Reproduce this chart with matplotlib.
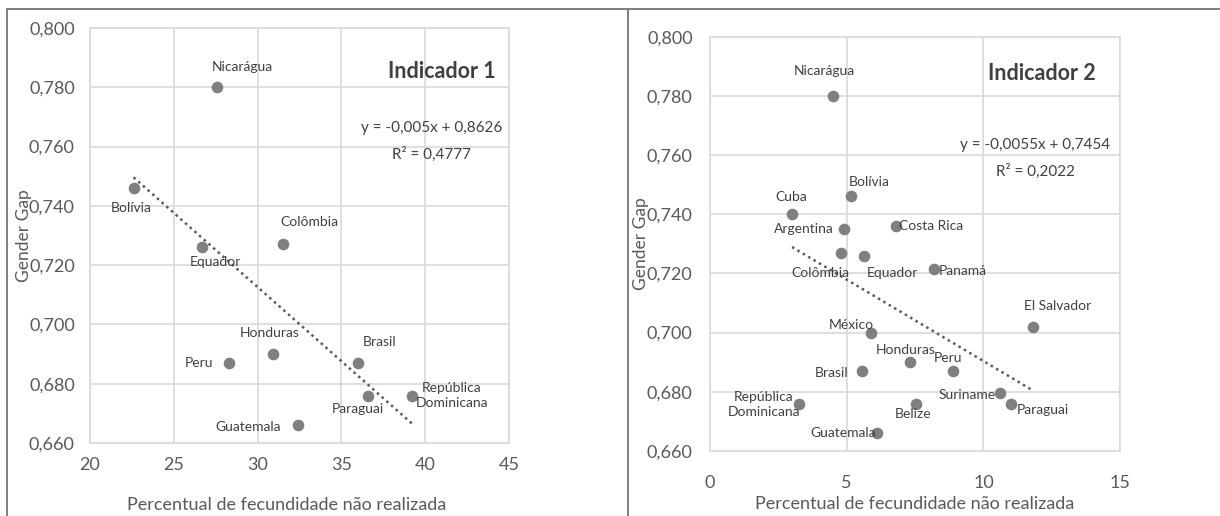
"""Gender gap vs unrealised fertility, two indicator panels (Excel-style scatter)."""
import matplotlib
matplotlib.use('Agg')
import matplotlib.pyplot as plt
import matplotlib.ticker as mticker
from matplotlib.lines import Line2D
import numpy as np

plt.rcParams['font.family'] = ['Lato', 'DejaVu Sans']

# ── Indicador 1 ─────────────────────────────────────
countries_1 = ['Nicarágua', 'Bolívia', 'Colômbia', 'Equador', 'Honduras', 'Peru',
               'Brasil', 'Paraguai', 'República\nDominicana', 'Guatemala']
x_1 = [27.6, 22.6, 31.5, 26.7, 30.9, 28.3, 36.0, 36.6, 39.2, 32.4]
y_1 = [0.780, 0.746, 0.727, 0.726, 0.690, 0.687, 0.687, 0.676, 0.676, 0.666]
slope_1, icept_1 = -0.005, 0.8626
eq_1 = 'y = -0,005x + 0,8626\nR² = 0,4777'

# ── Indicador 2 ─────────────────────────────────────
countries_2 = ['Nicarágua', 'Bolívia', 'Cuba', 'Argentina', 'Costa Rica', 'Colômbia',
               'Equador', 'Panamá', 'El Salvador', 'México', 'Honduras', 'Peru',
               'Brasil', 'Suriname', 'Paraguai', 'Belize', 'República\nDominicana',
               'Guatemala']
x_2 = [4.5, 5.15, 3.0, 4.9, 6.8, 4.8, 5.65, 8.2, 11.8, 5.9, 7.3, 8.9,
       5.55, 10.6, 11.0, 7.55, 3.25, 6.1]
y_2 = [0.780, 0.746, 0.740, 0.735, 0.736, 0.727, 0.726, 0.7215, 0.702, 0.700,
       0.690, 0.687, 0.687, 0.6795, 0.676, 0.676, 0.676, 0.666]
slope_2, icept_2 = -0.0055, 0.7454
eq_2 = 'y = -0,0055x + 0,7454\nR² = 0,2022'

# label offsets in pixels (dx, dy) relative to each point
off_1 = [(25, 20), (-2, -20), (27, 22), (13, -15), (-3, 21), (-30, 0),
         (21, 21), (-10, -13), (40, 0), (-50, -2)]
off_2 = [(-9, 25), (18, 14), (-1, 17), (-40, 0), (35, 0), (-21, -20),
         (28, -17), (29, -2), (25, 21), (-20, 8), (-4, 12), (-5, 13),
         (-30, -2), (-33, -2), (32, -6), (-3, -10), (-35, -1), (-34, 0)]

GRID = '#d9d9d9'
TXT = '#595959'
LBL = '#404040'
DOT = '#7f7f7f'

fig = plt.figure(figsize=(12.2, 5.16), dpi=100)
ax1 = fig.add_axes([0.0738, 0.1415, 0.3434, 0.8043])
ax2 = fig.add_axes([0.5820, 0.1260, 0.3361, 0.8030])


def draw_panel(ax, xs, ys, names, offs, slope, icept, xlim, title, title_xy,
               eq, eq_xy, xpad, ypad, xlab_xy, ylab_x):
    ax.set_xlim(*xlim)
    ax.set_ylim(0.660, 0.800)
    ax.xaxis.set_major_locator(mticker.MultipleLocator(5))
    ax.yaxis.set_major_locator(mticker.MultipleLocator(0.02))
    ax.yaxis.set_major_formatter(mticker.FuncFormatter(lambda v, p: f'{v:.3f}'.replace('.', ',')))
    ax.grid(True, color=GRID, lw=1.2)
    ax.set_axisbelow(True)
    for s in ax.spines.values():
        s.set_color(GRID)
        s.set_linewidth(1.2)
    ax.tick_params(length=0, labelsize=13, labelcolor=TXT)
    ax.tick_params(axis='y', pad=ypad)
    ax.tick_params(axis='x', pad=xpad)

    # trendline over data range
    xx = np.array([min(xs), max(xs)])
    ax.plot(xx, slope * xx + icept, ls=(0, (1, 1.5)), color='#595959', lw=1.8, zorder=2)
    ax.scatter(xs, ys, s=70, color=DOT, zorder=3, linewidths=0)

    for xv, yv, name, (dx, dy) in zip(xs, ys, names, offs):
        ax.annotate(name, (xv, yv), xytext=(dx, dy), textcoords='offset pixels',
                    ha='center', va='center', fontsize=10, color=LBL,
                    multialignment='center', zorder=4, linespacing=1.3)

    ax.text(*title_xy, title, transform=ax.transAxes, ha='center', va='center',
            fontsize=15.5, fontweight='bold', color=LBL)
    ax.text(*eq_xy, eq, transform=ax.transAxes, ha='center', va='center',
            fontsize=11, color=LBL, multialignment='center', linespacing=1.9)

    ax.set_xlabel('Percentual de fecundidade não realizada', fontsize=13, color=TXT)
    ax.set_ylabel('Gender Gap', fontsize=12.5, color=TXT)
    ax.xaxis.label.set_va('center')
    ax.yaxis.label.set_va('center')
    ax.xaxis.set_label_coords(*xlab_xy)
    ax.yaxis.set_label_coords(ylab_x, 0.5)


draw_panel(ax1, x_1, y_1, countries_1, off_1, slope_1, icept_1, (20, 45),
           'Indicador 1', (0.84, 0.894), eq_1, (0.816, 0.7265),
           xpad=10, ypad=11, xlab_xy=(0.47, -0.149), ylab_x=-0.158)
draw_panel(ax2, x_2, y_2, countries_2, off_2, slope_2, icept_2, (0, 15),
           'Indicador 2', (0.81, 0.91), eq_2, (0.793, 0.706),
           xpad=17, ypad=12.5, xlab_xy=(0.5, -0.128), ylab_x=-0.168)

# outer frames of the two chart boxes
for xy in [([7 / 1220, 1], [1 - 9 / 516] * 2),
           ([7 / 1220] * 2, [0, 1 - 9 / 516]),
           ([628 / 1220] * 2, [0, 1 - 9 / 516])]:
    fig.add_artist(Line2D(*xy, transform=fig.transFigure, color='#7f7f7f', lw=1.4))

fig.savefig('out.png', dpi=100)
plt.close()
